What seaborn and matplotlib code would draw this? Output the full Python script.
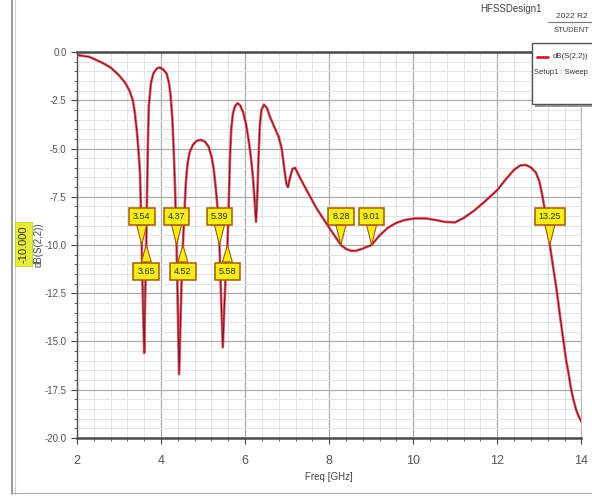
import matplotlib
matplotlib.use("Agg")
import matplotlib.pyplot as plt
from matplotlib.patches import Rectangle
from matplotlib.lines import Line2D
from matplotlib.ticker import MultipleLocator
import seaborn as sns

# S22 sweep
freq_ghz = [
    2.00, 2.30, 2.60, 2.80, 3.00, 3.15, 3.25, 3.33, 3.38, 3.43, 3.47, 3.50, 3.52,
    3.54, 3.57, 3.60, 3.62, 3.65, 3.67, 3.69, 3.71, 3.76, 3.82, 3.90, 3.97, 4.05,
    4.13, 4.19, 4.23, 4.27, 4.30, 4.33, 4.35, 4.37, 4.40, 4.43, 4.47, 4.50, 4.52,
    4.56, 4.59, 4.63, 4.68, 4.76, 4.85, 4.95, 5.05, 5.13, 5.20, 5.25, 5.30, 5.35,
    5.39, 5.43, 5.47, 5.51, 5.55, 5.58, 5.61, 5.64, 5.67, 5.71, 5.76, 5.82, 5.88,
    5.95, 6.02, 6.08, 6.13, 6.18, 6.22, 6.26, 6.29, 6.32, 6.35, 6.39, 6.45, 6.52,
    6.60, 6.70, 6.80, 6.87, 6.93, 6.98, 7.02, 7.07, 7.13, 7.19, 7.28, 7.40, 7.55,
    7.70, 7.85, 8.00, 8.14, 8.28, 8.40, 8.52, 8.64, 8.78, 9.01, 9.20, 9.40, 9.60,
    9.80, 10.05, 10.30, 10.52, 10.75, 10.99, 11.20, 11.46, 11.70, 12.00, 12.20,
    12.40, 12.55, 12.68, 12.80, 12.92, 13.00, 13.06, 13.15, 13.25, 13.34, 13.41,
    13.50, 13.57, 13.64, 13.70, 13.75, 13.81, 13.87, 13.93, 14.00,
]
s22_db = [
    -0.15, -0.25, -0.55, -0.80, -1.20, -1.60, -2.00, -2.50, -3.20, -4.20, -5.30, -6.30, -8.00,
    -10.0, -13.0, -15.6, -13.0, -10.0, -7.00, -4.50, -2.80, -1.60, -1.10, -0.85, -0.80, -0.90,
    -1.10, -1.60, -2.30, -3.50, -5.00, -6.80, -8.30, -10.0, -13.5, -16.7, -13.5, -11.0, -10.0,
    -8.20, -6.80, -5.80, -5.20, -4.80, -4.60, -4.55, -4.65, -4.90, -5.40, -6.00, -7.00, -8.20,
    -10.0, -12.8, -15.3, -13.0, -11.0, -10.0, -8.00, -5.50, -4.00, -3.20, -2.80, -2.65, -2.75,
    -3.10, -3.70, -4.50, -5.30, -6.30, -7.50, -8.80, -7.50, -5.50, -3.80, -3.00, -2.72, -2.90,
    -3.40, -3.90, -4.40, -5.00, -6.00, -6.80, -7.00, -6.50, -6.05, -6.00, -6.40, -6.90, -7.50,
    -8.10, -8.60, -9.10, -9.55, -10.0, -10.2, -10.3, -10.3, -10.2, -10.0, -9.50, -9.10, -8.85,
    -8.70, -8.62, -8.62, -8.70, -8.80, -8.83, -8.60, -8.20, -7.75, -7.15, -6.60,
    -6.10, -5.87, -5.85, -5.98, -6.25, -6.70, -7.30, -8.40, -10.0, -11.3, -12.3,
    -13.8, -14.9, -16.0, -16.7, -17.4, -18.0, -18.5, -18.85, -19.15,
]

# -10 dB crossing markers
marker_freqs = [3.54, 3.65, 4.37, 4.52, 5.39, 5.58, 8.28, 9.01, 13.25]
marker_level = -10.0
marker_below = [False, True, False, True, False, True, False, False, False]

x_ticks = [2, 4, 6, 8, 10, 12, 14]
y_ticks = [0.0, -2.5, -5.0, -7.5, -10.0, -12.5, -15.0, -17.5, -20.0]

sns.set_theme(style="white")
plt.rcParams["font.family"] = ["Liberation Sans Narrow", "Liberation Sans", "DejaVu Sans"]

fig = plt.figure(figsize=(5.92, 4.96), dpi=100)
ax = fig.add_axes([0.130, 0.117, 0.852, 0.778])

# line: red halo with darker core, like the HFSS trace
sns.lineplot(x=freq_ghz, y=s22_db, ax=ax, color="#e0303c", linewidth=1.9,
             alpha=0.8, sort=False, estimator=None)
sns.lineplot(x=freq_ghz, y=s22_db, ax=ax, color="#7a1525", linewidth=0.7,
             sort=False, estimator=None)

ax.set_xlim(2, 14)
ax.set_ylim(-20, 0)
ax.set_xticks(x_ticks)
ax.set_xticklabels([str(t) for t in x_ticks])
ax.set_yticks(y_ticks)
ax.set_yticklabels([f"{t:.1f}" for t in y_ticks])
ax.xaxis.set_minor_locator(MultipleLocator(0.4))
ax.yaxis.set_minor_locator(MultipleLocator(0.5))
ax.grid(which="major", color="#ababab", linewidth=0.9)
ax.grid(which="minor", color="#e4e4e4", linewidth=0.7)
ax.set_axisbelow(True)

ax.tick_params(axis="both", which="major", direction="out", length=4, width=0.8,
               color="#444444", labelcolor="#555555")
ax.tick_params(axis="both", which="minor", direction="out", length=2, width=0.6,
               color="#444444")
ax.tick_params(axis="y", labelsize=7)
ax.tick_params(axis="x", labelsize=9, pad=8)
ax.xaxis.set_ticks_position("bottom")
ax.yaxis.set_ticks_position("left")

for side in ["top", "bottom"]:
    ax.spines[side].set_color("#4a4a4a")
    ax.spines[side].set_linewidth(1.8)
ax.spines["left"].set_color("#555555")
ax.spines["left"].set_linewidth(1.0)
ax.spines["right"].set_color("#bbbbbb")
ax.spines["right"].set_linewidth(0.8)

ax.set_xlabel("Freq [GHz]", fontsize=7, color="#444444", labelpad=4)
ax.set_ylabel("dB(S(2,2))", fontsize=7, color="#444444")
ax.yaxis.set_label_coords(-0.066, 0.5)

# marker tags
yellow = "#f4ec1c"
edge = "#a65c00"
for f, below in zip(marker_freqs, marker_below):
    ty = marker_level - 1.35 if below else marker_level + 1.5
    ax.annotate(
        f"{f:.2f}", xy=(f, marker_level), xytext=(f, ty),
        ha="center", va="center", fontsize=6.5, color="#333333",
        bbox=dict(boxstyle="square,pad=0.45", fc=yellow, ec=edge, lw=1.1),
        arrowprops=dict(arrowstyle="wedge,tail_width=1.1", fc=yellow, ec=edge,
                        lw=0.8, shrinkA=0, shrinkB=0),
        zorder=5,
    )

# yellow cursor readout on the y axis
fig.text(0.040, 1 - 244 / 496, "-10.000", rotation=90, ha="center", va="center",
         fontsize=8, color="#333333",
         bbox=dict(boxstyle="square,pad=0.3", fc="#e6ec3a", ec="#c8cc30", lw=0.6))

# header text
fig.text(511 / 592, 1 - 9 / 496, "HFSSDesign1", ha="center", va="center",
         fontsize=7, color="#444444")
fig.text(572 / 592, 1 - 16 / 496, "2022 R2", ha="center", va="center",
         fontsize=6, color="#444444")
fig.add_artist(Line2D([548 / 592, 1.0], [1 - 22 / 496, 1 - 22 / 496],
                      color="#777777", lw=0.8))
fig.text(572 / 592, 1 - 30 / 496, "STUDENT", ha="center", va="center",
         fontsize=5.5, color="#444444")

# legend box (partly off the right edge)
lx0, ly0 = 532 / 592, 1 - 104 / 496
fig.add_artist(Rectangle((lx0 + 3 / 592, ly0 - 3 / 496), 0.12, 61 / 496,
                         transform=fig.transFigure, fc="#9a9a9a", ec="none", zorder=9))
fig.add_artist(Rectangle((lx0, ly0), 0.12, 61 / 496, transform=fig.transFigure,
                         fc="white", ec="#555555", lw=1.0, zorder=10))
fig.add_artist(Line2D([537 / 592, 548 / 592], [1 - 57 / 496, 1 - 57 / 496],
                      color="#d0202e", lw=2.0, zorder=11))
fig.text(553 / 592, 1 - 57 / 496, "dB(S(2,2))", ha="left", va="center",
         fontsize=5.5, color="#333333", zorder=11)
fig.text(534 / 592, 1 - 72 / 496, "Setup1 : Sweep", ha="left", va="center",
         fontsize=5.5, color="#333333", zorder=11)

# outer frame lines of the screenshot
fig.add_artist(Line2D([12 / 592, 12 / 592], [0.005, 1.0], color="#888888", lw=1.2))
fig.add_artist(Line2D([15 / 592, 15 / 592], [0.005, 1.0], color="#cccccc", lw=0.8))
fig.add_artist(Line2D([12 / 592, 1.0], [1 - 493 / 496, 1 - 493 / 496],
                      color="#aaaaaa", lw=0.8))

fig.savefig("out.png", dpi=100)
